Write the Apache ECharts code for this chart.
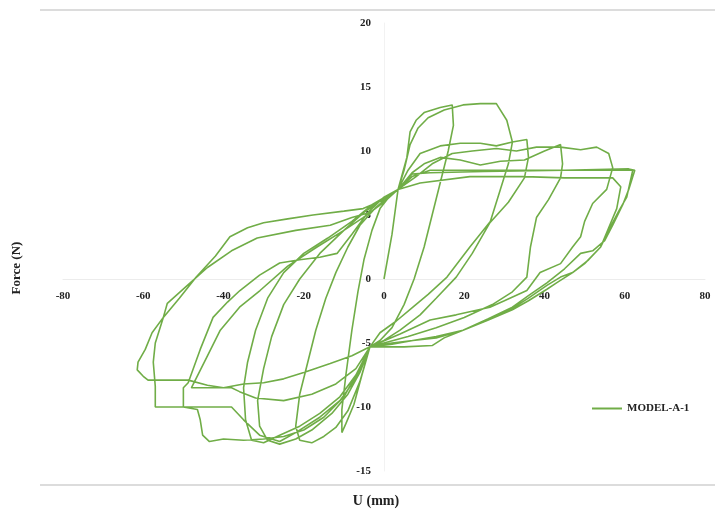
<!DOCTYPE html>
<html>
<head>
<meta charset="utf-8">
<script src="https://cdn.jsdelivr.net/npm/echarts@6/dist/echarts.min.js"></script>
<style>html,body{margin:0;padding:0;background:#fff}#c{width:715px;height:516px}</style>
</head>
<body>
<div id="c"></div>
<script>
// Axis ticks
const xTicks = [-80, -60, -40, -20, 0, 20, 40, 60, 80];
const yTicks = [-15, -10, -5, 0, 5, 10, 15, 20];
const seriesName = 'MODEL-A-1';

// Hysteresis path, cycle by cycle: [U (mm), Force (N)]
const start = [[0,0],[2,3.5],[3.5,7]];
const cycle1 = [[5.7,9.5],[6.5,11.5],[8,12.4],[10,13],[14,13.4],[17,13.6],[17.3,12],[16,10],[14,7.5],[12,5],[10,2.5],[7.5,0],[5,-2],[2,-3.8],[-1,-4.8],[-3.5,-5.3],
  [-5.5,-7.5],[-7.5,-9.8],[-9.5,-11.3],[-10.5,-12],[-10.5,-10.2],[-9.5,-7.5],[-8,-4],[-6.5,-1],[-5,1.5],[-3,3.8],[-1,5.5],[1.5,6.5],[3.5,7]];
const cycle2 = [[5,8.5],[6.5,10.5],[8.5,11.8],[11,12.6],[15,13.2],[19.7,13.6],[24,13.7],[28,13.7],[30.6,12.4],[32,10.7],[31,9],[29,7],[26.5,4.5],[21.4,2.5],[15.7,0.15],[11,-1.2],[7.2,-2.2],[3,-3.3],[-1,-4.2],[-3.5,-5.3],
  [-6,-8],[-9,-10.3],[-12,-11.6],[-15,-12.3],[-18,-12.8],[-21,-12.6],[-22,-11.5],[-21,-9],[-19,-6.5],[-17,-4],[-14.5,-1.5],[-12,0.5],[-9,2.5],[-6,4.2],[-2,5.6],[1,6.4],[3.5,7]];
const cycle3 = [[6,8.5],[9,9.8],[14,10.4],[19,10.6],[24,10.6],[28,10.4],[32,10.7],[35.6,10.9],[36,9.5],[35,7.9],[31,6],[26.4,4.4],[22,2],[18,0.15],[13,-1.5],[9,-2.8],[4,-4],[0,-4.8],[-3.5,-5.3],
  [-6,-7.3],[-9,-9],[-13,-10.5],[-18,-11.8],[-22,-12.5],[-26,-12.9],[-29,-12.6],[-31,-11.5],[-31.5,-9.5],[-30,-7],[-28,-4.5],[-25,-2],[-21,0],[-16,2],[-10,3.8],[-5,5.2],[0,6.3],[3.5,7]];
const cycle4 = [[7,8.3],[10,9],[14,9.5],[19,9.3],[24,8.9],[29,9.2],[35,9.3],[40,10],[44,10.5],[44.5,9],[44,7.9],[41,6.2],[38,4.8],[36.5,2.5],[35.6,0.15],[32,-1],[27,-2],[20,-3],[13,-3.8],[6,-4.5],[0,-5],[-3.5,-5.3],
  [-7,-7.5],[-11,-9.2],[-16,-10.5],[-21,-11.5],[-26,-12.2],[-30,-12.8],[-33,-12.6],[-34.5,-11],[-35,-8.5],[-34,-6.5],[-32,-4],[-29,-1.5],[-25,0.5],[-20,2],[-14,3.2],[-8,4.5],[-3,5.8],[3.5,7]];
const cycle5 = [[8,8],[12,9],[17,9.8],[22,10],[28,10.2],[33,10],[38,10.3],[44,10.3],[49,10.1],[53,10.3],[56,9.8],[57,8.7],[55.5,7],[52,5.9],[50,4.5],[49,3.3],[47,2.5],[44,1.2],[38.9,0.5],[35.6,-0.9],[30,-1.7],[26.4,-2.2],[18,-2.8],[11.5,-3.2],[4,-4.3],[-3.5,-5.3],
  [-7,-7],[-12,-8.2],[-18,-9],[-25,-9.5],[-32,-9.3],[-36,-8.8],[-38,-8.5],[-48,-8.5],[-44,-6],[-40.8,-4],[-36,-2.2],[-30.9,-0.9],[-24,1],[-16.7,2.5],[-10,3.8],[-5.2,4.8],[0,6],[3.5,7]];
const cycle6 = [[9,7.5],[21.4,8],[35,8],[45,7.9],[57,7.9],[59,7.2],[58,5.5],[56,4],[54,2.5],[51,1.5],[47,0.5],[44,0.15],[40.6,-0.5],[36,-1.5],[32,-2.3],[26,-3.2],[19.7,-4],[13,-4.5],[7.2,-4.8],[2,-5.1],[-3.5,-5.3],
  [-6,-7],[-10,-9.2],[-15,-10.8],[-20,-11.8],[-25,-12.3],[-30,-12.5],[-35,-12.6],[-40,-12.5],[-43.5,-12.7],[-45.2,-12.2],[-45.8,-11],[-46.5,-10.2],[-50,-10],[-50,-8.5],[-48.8,-8.1],[-45.8,-5.5],[-42.6,-3],[-39,-1.8],[-35.9,-0.9],[-31,0.3],[-26,1.25],[-21,1.5],[-16,1.7],[-11.7,2],[-8,3.5],[-4,5.2],[0,6.4],[3.5,7]];
const cycle7 = [[7,8],[11.5,8.5],[30,8.5],[50,8.5],[62,8.5],[60.5,6.4],[58.5,5.3],[57,4.4],[54,2.5],[50,1.2],[47,0.5],[43,-0.3],[40.6,-0.8],[36,-1.7],[32,-2.4],[26,-3.2],[19.7,-4],[15,-4.6],[12,-5.2],[5,-5.3],[-1,-5.3],[-3.5,-5.3],
  [-7,-7.8],[-11,-9.5],[-16,-10.8],[-22,-12],[-26,-12.7],[-31,-12.2],[-35,-11],[-38,-10],[-45,-10],[-52,-10],[-57,-10],[-57,-8.4],[-57.5,-6.5],[-57,-5],[-55,-3],[-54,-1.9],[-49,-0.5],[-44,0.9],[-38,2.2],[-31.6,3.2],[-22,3.8],[-13.4,4.2],[-8,4.8],[-3.5,5.2],[0,6],[3.5,7]];
const cycle8 = [[7,8.2],[11.5,8.3],[25,8.4],[45,8.5],[61,8.6],[62.5,8.5],[61,7],[59.5,5.8],[57,4.2],[55,3],[52,2.2],[49,2],[45,0.8],[40.6,-0.3],[36,-1.3],[32,-2.2],[26,-3.1],[19.7,-4],[13,-4.6],[7.2,-4.8],[2,-5],[-3.5,-5.3],
  [-8,-6],[-13.4,-6.6],[-20,-7.3],[-25,-7.8],[-30,-8.1],[-35,-8.2],[-40,-8.5],[-44,-8.3],[-48.8,-7.9],[-54,-7.9],[-58.8,-7.9],[-60,-7.6],[-61.5,-7.1],[-61.3,-6.5],[-59.5,-5.5],[-57.8,-4.2],[-55,-3],[-51,-1.5],[-46.8,0.16],[-42,1.8],[-38.4,3.3],[-34,4],[-30,4.4],[-24,4.7],[-17.7,5],[-10,5.3],[-5.2,5.5],[0,6.2],[3.5,7]];

const path = [].concat(start, cycle1, cycle2, cycle3, cycle4, cycle5, cycle6, cycle7, cycle8);

const W = 715, H = 516;
const grid = {left: 63, right: 10, top: 23, bottom: 45};
const xMin = xTicks[0], xMax = xTicks[xTicks.length - 1];
const yMin = yTicks[0], yMax = yTicks[yTicks.length - 1];
const plotW = W - grid.left - grid.right, plotH = H - grid.top - grid.bottom;
// shift each axis so it crosses the other at zero (labels move with it)
const xAxisOffset = -plotH * (0 - yMin) / (yMax - yMin);
const yAxisOffset = -plotW * (0 - xMin) / (xMax - xMin);

const labelFont = {fontFamily: 'Liberation Serif', fontWeight: 'bold', fontSize: 11, color: '#222'};
const chart = echarts.init(document.getElementById('c'), null, {renderer: 'canvas'});
chart.setOption({
  animation: false,
  backgroundColor: '#fff',
  grid: grid,
  xAxis: {
    type: 'value', min: xMin, max: xMax, interval: 20, position: 'bottom', offset: xAxisOffset,
    axisLine: {onZero: false, lineStyle: {color: '#ececec', width: 1}},
    axisTick: {show: false}, splitLine: {show: false},
    axisLabel: Object.assign({margin: 12}, labelFont)
  },
  yAxis: {
    type: 'value', min: yMin, max: yMax, interval: 5, position: 'left', offset: yAxisOffset,
    axisLine: {show: true, onZero: false, lineStyle: {color: '#f2f2f2', width: 1}},
    axisTick: {show: false}, splitLine: {show: false},
    axisLabel: Object.assign({margin: 13}, labelFont)
  },
  legend: {
    data: [{name: seriesName, icon: 'rect'}], left: 587, top: 398, itemWidth: 30, itemHeight: 2, itemGap: 6,
    textStyle: {fontFamily: 'Liberation Serif', fontWeight: 'bold', fontSize: 11, color: '#222'}
  },
  graphic: [
    {type: 'line', shape: {x1: 40, y1: 10, x2: 715, y2: 10}, style: {stroke: '#dcdcdc', lineWidth: 2}, silent: true},
    {type: 'line', shape: {x1: 40, y1: 485, x2: 715, y2: 485}, style: {stroke: '#dcdcdc', lineWidth: 2}, silent: true},
    {type: 'text', x: 17, y: 268, rotation: Math.PI / 2, style: {text: 'Force (N)', fontFamily: 'Liberation Serif', fontWeight: 'bold', fontSize: 13, fill: '#222', align: 'center', verticalAlign: 'middle'}},
    {type: 'text', x: 376, y: 501, style: {text: 'U (mm)', fontFamily: 'Liberation Serif', fontWeight: 'bold', fontSize: 14, fill: '#222', align: 'center', verticalAlign: 'middle'}}
  ],
  series: [{
    name: seriesName, type: 'line', data: path, symbol: 'none', smooth: false,
    lineStyle: {color: '#70ad47', width: 1.6}, itemStyle: {color: '#70ad47'}
  }]
});
</script>
</body>
</html>
